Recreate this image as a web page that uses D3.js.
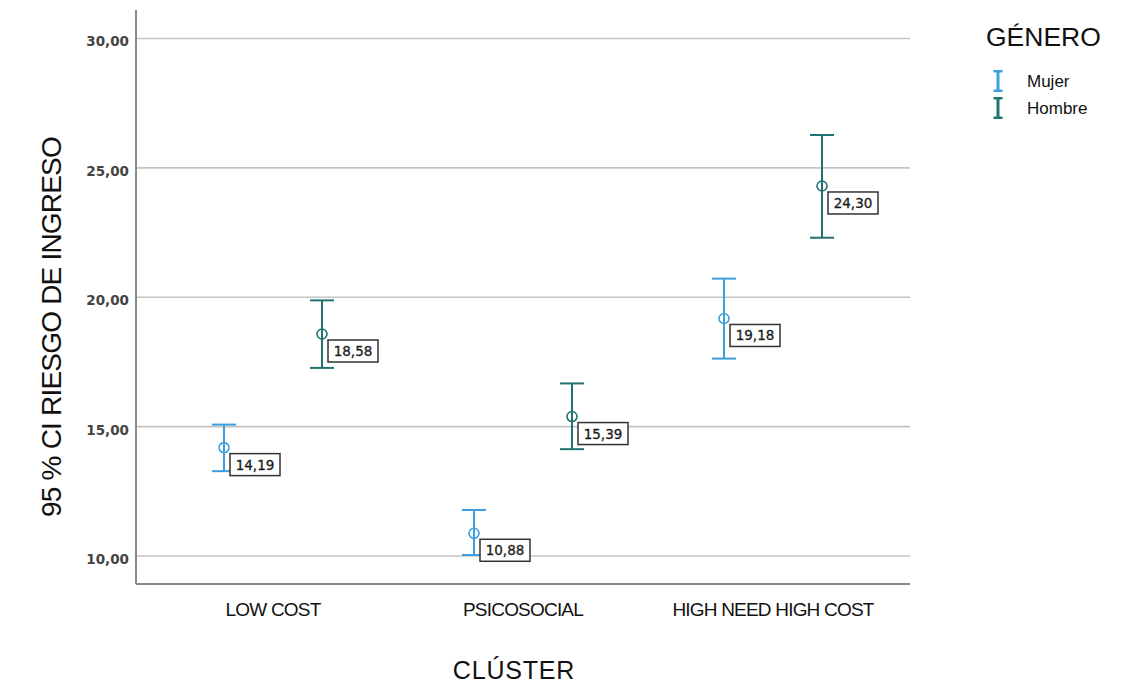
<!DOCTYPE html>
<html>
<head>
<meta charset="utf-8">
<script src="https://cdn.jsdelivr.net/npm/d3@7"></script>
<style>
  html, body { margin: 0; padding: 0; background: #fff; }
  svg { display: block; }
</style>
</head>
<body>
<svg id="chart" width="1132" height="687"></svg>
<script>
// Categories and series
const clusters = ["LOW COST", "PSICOSOCIAL", "HIGH NEED HIGH COST"];
const genders = ["Mujer", "Hombre"];

// Mean and 95 % confidence interval per gender, in cluster order
const meanMujer  = [14.19, 10.88, 19.18];
const lowMujer   = [13.28, 10.04, 17.63];
const highMujer  = [15.08, 11.78, 20.72];
const meanHombre = [18.58, 15.39, 24.30];
const lowHombre  = [17.27, 14.13, 22.30];
const highHombre = [19.88, 16.67, 26.27];

const yTicks = [10, 15, 20, 25, 30];
const yTickLabels = ["10,00", "15,00", "20,00", "25,00", "30,00"];

const colors = { "Mujer": "#3d9fdd", "Hombre": "#217270" };

const series = [
  { gender: "Mujer",  mean: meanMujer,  low: lowMujer,  high: highMujer },
  { gender: "Hombre", mean: meanHombre, low: lowHombre, high: highHombre }
];
const points = [];
series.forEach(s => clusters.forEach((c, i) => {
  points.push({ cluster: c, gender: s.gender, mean: s.mean[i], low: s.low[i], high: s.high[i] });
}));

const svg = d3.select("#chart");
const plot = { left: 136, right: 910, top: 10, bottom: 584 };

const x = d3.scaleBand()
  .domain(clusters)
  .range([plot.left, plot.right])
  .paddingInner(0)
  .paddingOuter(0.048);
const xSub = d3.scalePoint().domain(genders).range([-49, 49]);

const y = d3.scaleLinear().domain([8.92, 31.1]).range([plot.bottom, plot.top]);

const fmt = v => v.toFixed(2).replace(".", ",");

// Horizontal gridlines
svg.append("g")
  .selectAll("line")
  .data(yTicks)
  .join("line")
  .attr("x1", plot.left).attr("x2", plot.right)
  .attr("y1", d => y(d)).attr("y2", d => y(d))
  .attr("stroke", "#c4c4c4").attr("stroke-width", 1.6);

// Y axis with tick labels
const yAxis = d3.axisLeft(y)
  .tickValues(yTicks)
  .tickFormat((d, i) => yTickLabels[i])
  .tickSize(0)
  .tickPadding(7);
const gy = svg.append("g").attr("transform", `translate(${plot.left},0)`).call(yAxis);
gy.select(".domain").remove();
gy.selectAll("text")
  .attr("font-family", "DejaVu Sans")
  .attr("font-weight", "bold")
  .attr("font-size", 13.5)
  .attr("fill", "#444")
  .attr("dy", "0.55em");

// X axis with category labels
const xAxis = d3.axisBottom(x).tickSize(0).tickPadding(19);
const gx = svg.append("g").attr("transform", `translate(0,${plot.bottom})`).call(xAxis);
gx.select(".domain").remove();
gx.selectAll("text")
  .attr("font-family", "Liberation Sans")
  .attr("font-size", 19)
  .attr("letter-spacing", "-0.8px")
  .attr("fill", "#111");

// Axis lines
svg.append("line")
  .attr("x1", plot.left).attr("x2", plot.left)
  .attr("y1", plot.top).attr("y2", plot.bottom)
  .attr("stroke", "#8a8a8a").attr("stroke-width", 2);
svg.append("line")
  .attr("x1", plot.left).attr("x2", plot.right)
  .attr("y1", plot.bottom).attr("y2", plot.bottom)
  .attr("stroke", "#8a8a8a").attr("stroke-width", 2);

// Axis titles
svg.append("text")
  .attr("transform", `translate(61,${327}) rotate(-90)`)
  .attr("text-anchor", "middle")
  .attr("font-family", "Liberation Sans")
  .attr("font-size", 28)
  .attr("letter-spacing", "-0.8px")
  .attr("fill", "#111")
  .text("95 % CI RIESGO DE INGRESO");

svg.append("text")
  .attr("x", 514).attr("y", 679)
  .attr("text-anchor", "middle")
  .attr("font-family", "Liberation Sans")
  .attr("font-size", 25)
  .attr("letter-spacing", "0.8px")
  .attr("fill", "#111")
  .text("CLÚSTER");

// Error bars
const capHalf = 12;
const px = d => x(d.cluster) + x.bandwidth() / 2 + xSub(d.gender);
const bars = svg.append("g").selectAll("g")
  .data(points)
  .join("g")
  .attr("stroke", d => colors[d.gender])
  .attr("stroke-width", 2)
  .attr("fill", "none");
bars.append("line")
  .attr("x1", px).attr("x2", px)
  .attr("y1", d => y(d.low)).attr("y2", d => y(d.high));
bars.append("line")
  .attr("x1", d => px(d) - capHalf).attr("x2", d => px(d) + capHalf)
  .attr("y1", d => y(d.high)).attr("y2", d => y(d.high));
bars.append("line")
  .attr("x1", d => px(d) - capHalf).attr("x2", d => px(d) + capHalf)
  .attr("y1", d => y(d.low)).attr("y2", d => y(d.low));
bars.append("circle")
  .attr("cx", px).attr("cy", d => y(d.mean))
  .attr("r", 5)
  .attr("stroke-width", 1.6);

// Mean value labels
const labels = svg.append("g").selectAll("g")
  .data(points)
  .join("g")
  .attr("transform", d => `translate(${px(d) + 6},${y(d.mean) + 6})`);
labels.append("rect")
  .attr("width", 50).attr("height", 22)
  .attr("fill", "#fff")
  .attr("stroke", "#333")
  .attr("stroke-width", 1.5);
labels.append("text")
  .attr("x", 25).attr("y", 16)
  .attr("text-anchor", "middle")
  .attr("font-family", "DejaVu Sans")
  .attr("font-size", 13.5)
  .attr("fill", "#1a1a1a")
  .attr("stroke", "#1a1a1a")
  .attr("stroke-width", 0.3)
  .text(d => fmt(d.mean));

// Legend
const legend = svg.append("g").attr("transform", "translate(986,0)");
legend.append("text")
  .attr("x", 0).attr("y", 46)
  .attr("font-family", "Liberation Sans")
  .attr("font-size", 26.5)
  .attr("fill", "#111")
  .text("GÉNERO");
const items = legend.selectAll("g.item")
  .data(genders)
  .join("g")
  .attr("class", "item")
  .attr("transform", (d, i) => `translate(0,${70 + i * 27})`);
items.append("line")
  .attr("x1", 12).attr("x2", 12).attr("y1", 0).attr("y2", 22)
  .attr("stroke", d => colors[d]).attr("stroke-width", 3);
items.append("line")
  .attr("x1", 7.5).attr("x2", 16.5).attr("y1", 1.2).attr("y2", 1.2)
  .attr("stroke", d => colors[d]).attr("stroke-width", 2.5);
items.append("line")
  .attr("x1", 7.5).attr("x2", 16.5).attr("y1", 20.8).attr("y2", 20.8)
  .attr("stroke", d => colors[d]).attr("stroke-width", 2.5);
items.append("text")
  .attr("x", 41).attr("y", 17)
  .attr("font-family", "Liberation Sans")
  .attr("font-size", 17)
  .attr("fill", "#111")
  .text(d => d);
</script>
</body>
</html>
